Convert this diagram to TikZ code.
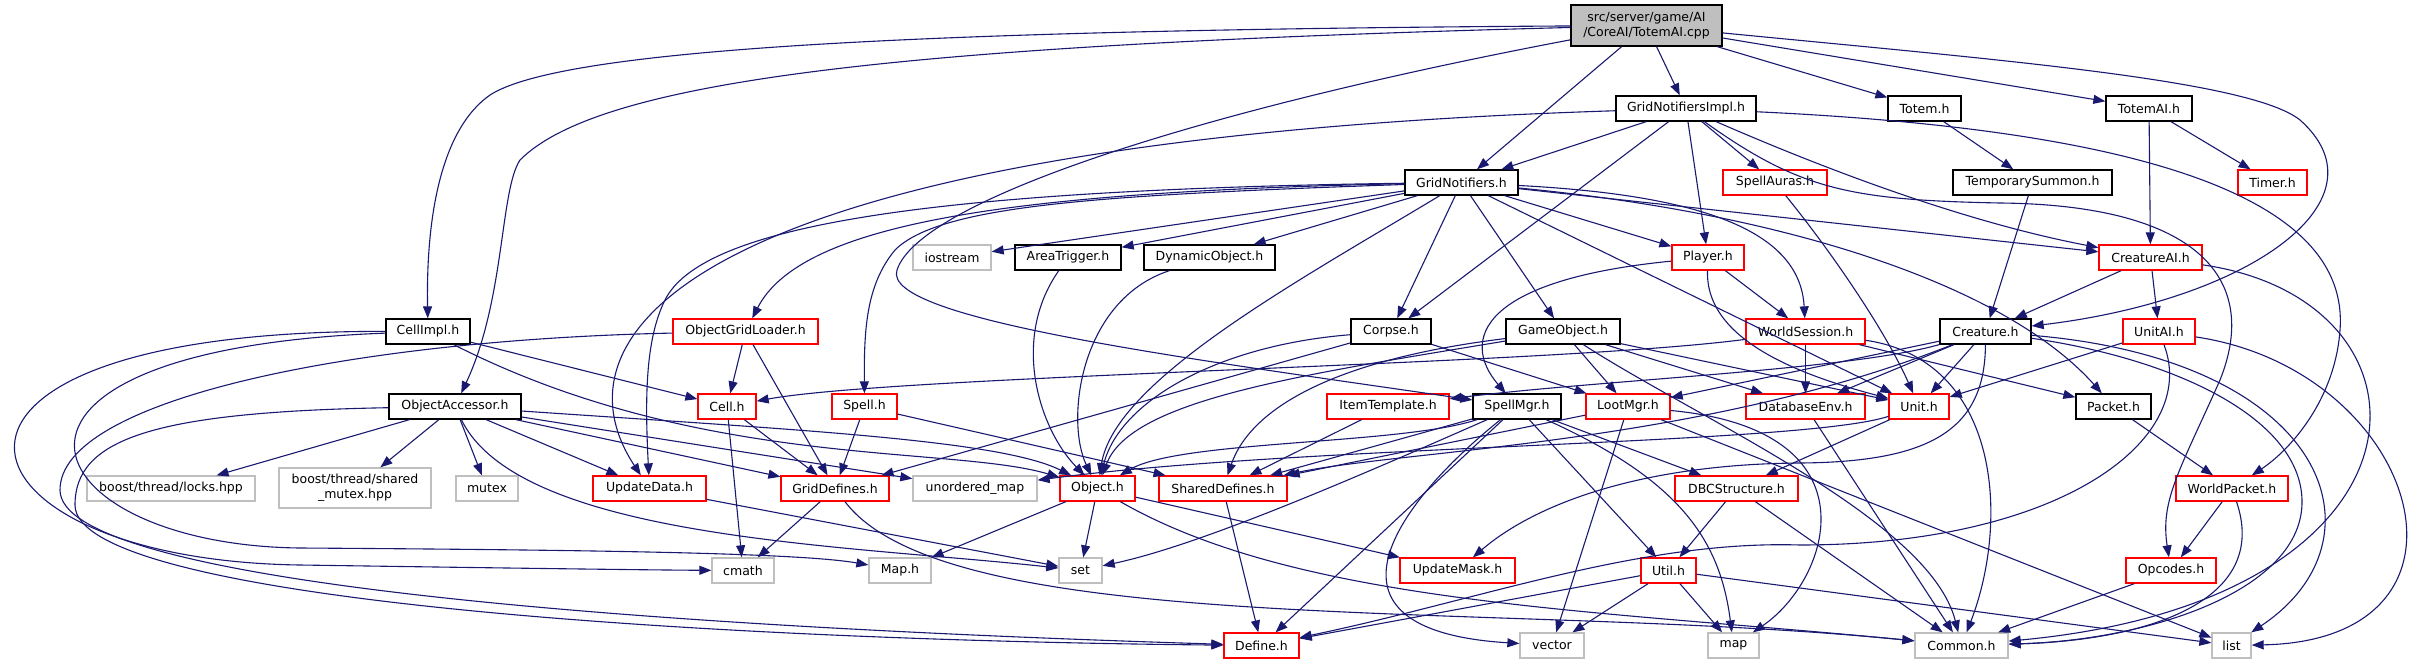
\documentclass[tikz,border=0pt]{standalone}
\usepackage{fontspec}
\setmainfont{DejaVu Sans}
\usetikzlibrary{arrows.meta}
\definecolor{edgeblue}{HTML}{191970}
\definecolor{boxgray}{HTML}{BFBFBF}

\begin{document}
\begin{tikzpicture}[x=1pt,y=-1pt,
  box/.style={rectangle,inner sep=0pt,minimum height=25pt,line width=1.3pt,fill=white,font=\fontsize{12.5}{15}\selectfont},
  blackbox/.style={box,draw=black},
  redbox/.style={box,draw=red},
  graybox/.style={box,draw=boxgray},
  dep/.style={draw=edgeblue,line width=1.1pt,-{Triangle[length=12pt,width=9pt]}}]
\useasboundingbox (0,0) rectangle (2417,664);

\node[box,draw=black,fill=boxgray,minimum width=151pt,minimum height=41pt,align=center] (root) at (1646.5,25.5) {src/server/game/AI\\/CoreAI/TotemAI.cpp};

\foreach \nm/\xx/\yy/\ww/\lbl in {gni/1686/108.5/140/GridNotifiersImpl.h, totem/1924.5/108.5/73/Totem.h,
  totemaih/2149/108.5/86/TotemAI.h, gn/1461.5/182.5/113/GridNotifiers.h, tempsum/2032.5/182.5/159/TemporarySummon.h,
  areatrigger/1068/257.5/106/AreaTrigger.h, dynobj/1209.5/257.5/131/DynamicObject.h, cellimpl/428/331.5/84/CellImpl.h,
  corpse/1391/331.5/80/Corpse.h, gameobject/1563/331.5/114/GameObject.h, creature/1985.5/331.5/91/Creature.h,
  objacc/455/406.5/132/ObjectAccessor.h, spellmgr/1517/406.5/88/SpellMgr.h, packet/2113.5/406.5/75/Packet.h}{
	\node[blackbox,minimum width=\ww pt] (\nm) at (\xx,\yy) {\lbl};
}
\foreach \nm/\xx/\yy/\ww/\lbl in {spellauras/1775/182.5/104/SpellAuras.h, timer/2272.5/182.5/69/Timer.h,
  player/1708/257.5/72/Player.h, creatureai/2150.5/257.5/103/CreatureAI.h, ogl/745.5/331.5/145/ObjectGridLoader.h,
  worldsession/1805.5/331.5/119/WorldSession.h, unitai/2159/331.5/72/UnitAI.h, cell/727/406.5/58/Cell.h,
  spell/864.5/406.5/65/Spell.h, itemtemplate/1388/406.5/122/ItemTemplate.h, lootmgr/1628/406.5/84/LootMgr.h,
  dbenv/1805.5/406.5/119/DatabaseEnv.h, unit/1919/406.5/60/Unit.h, updatedata/649.5/488.5/113/UpdateData.h,
  griddefines/835/488.5/108/GridDefines.h, object/1097.5/488.5/75/Object.h, shareddefines/1223/488.5/128/SharedDefines.h,
  dbcstructure/1736.5/488.5/123/DBCStructure.h, worldpacket/2232/488.5/112/WorldPacket.h,
  updatemask/1457.5/570.5/115/UpdateMask.h, util/1668.5/570.5/55/Util.h, opcodes/2171/570.5/90/Opcodes.h,
  define/1261.5/645.5/75/Define.h}{
	\node[redbox,minimum width=\ww pt] (\nm) at (\xx,\yy) {\lbl};
}
\foreach \nm/\xx/\yy/\ww/\lbl in {iostream/952/257.5/78/iostream, mutex/487/488.5/62/mutex,
  unorderedmap/975/488.5/124/unordered\_map, cmath/743/570.5/62/cmath, maph/900/570.5/62/Map.h,
  set/1080.5/570.5/43/set, vector/1552/645.5/64/vector, map/1733.5/645.5/51/map,
  common/1961.5/645.5/93/Common.h, list/2231.5/645.5/39/list}{
	\node[graybox,minimum width=\ww pt] (\nm) at (\xx,\yy) {\lbl};
}
\node[graybox,minimum width=168pt] (locks) at (171,488.5) {boost/thread/locks.hpp};
\node[graybox,minimum width=152pt,minimum height=40pt,align=center] (sharedmutex) at (355,488) {boost/thread/shared\\\_mutex.hpp};

\foreach \a/\b in {root/gn, root/gni, root/totem, root/totemaih,
  gni/gn, gni/corpse, gni/player, gni/spellauras,
  totem/tempsum, totemaih/creatureai, totemaih/timer, tempsum/creature,
  gn/iostream, gn/areatrigger, gn/dynobj, gn/corpse, gn/gameobject, gn/player, gn/unit, gn/creatureai,
  player/worldsession, creatureai/creature, creatureai/unitai,
  cellimpl/cell, ogl/cell, ogl/griddefines,
  objacc/locks, objacc/sharedmutex, objacc/mutex, objacc/updatedata, objacc/griddefines, objacc/unorderedmap,
  corpse/griddefines, corpse/lootmgr, gameobject/lootmgr, gameobject/dbenv, gameobject/unit,
  worldsession/dbenv, worldsession/packet, creature/unit, creature/dbenv, creature/lootmgr, unitai/unit,
  cell/cmath, cell/griddefines, spell/griddefines, spell/shareddefines, itemtemplate/shareddefines,
  spellmgr/shareddefines, spellmgr/define, spellmgr/util, spellmgr/dbcstructure,
  lootmgr/shareddefines, lootmgr/vector, lootmgr/list, dbenv/common, unit/dbcstructure, packet/worldpacket,
  updatedata/set, griddefines/cmath, object/maph, object/set, object/updatemask, shareddefines/define,
  dbcstructure/util, dbcstructure/common, util/define, util/vector, util/map, util/list,
  worldpacket/opcodes, opcodes/common}{
	\draw[dep] (\a) -- (\b);
}

\draw[dep] (root) .. controls (900,30) and (560,50) .. (490,95) .. controls (440,130) and (426,220) .. (cellimpl);
\draw[dep] (root) .. controls (900,45) and (600,80) .. (520,160) .. controls (500,190) and (505,300) .. (objacc);
\draw[dep] (root) .. controls (1200,110) and (920,200) .. (897,270) .. controls (880,320) and (1200,360) .. (spellmgr);
\draw[dep] (root) .. controls (2000,60) and (2250,80) .. (2300,120) .. controls (2390,200) and (2250,300) .. (creature);

\draw[dep] (gni) .. controls (700,140) and (545,330) .. (updatedata);
\draw[dep] (gni) .. controls (1850,180) and (1980,225) .. (creatureai);
\draw[dep] (gni) .. controls (1800,190) and (1850,200) .. (2000,203) .. controls (2200,205) and (2260,280) .. (2220,380) .. controls (2180,470) and (2160,500) .. (opcodes);
\draw[dep] (gni) .. controls (2150,130) and (2350,200) .. (2340,330) .. controls (2335,400) and (2290,450) .. (worldpacket);

\draw[dep] (gn) .. controls (1000,192) and (800,225) .. (ogl);
\draw[dep] (gn) .. controls (900,190) and (700,230) .. (665,300) .. controls (645,340) and (645,400) .. (updatedata);
\draw[dep] (gn) .. controls (1100,195) and (940,205) .. (895,250) .. controls (866,285) and (864,330) .. (spell);
\draw[dep] (gn) .. controls (1300,280) and (1115,380) .. (object);
\draw[dep] (gn) .. controls (1700,195) and (1800,230) .. (worldsession);
\draw[dep] (gn) .. controls (1800,215) and (2010,290) .. (packet);

\draw[dep] (spellauras) .. controls (1830,250) and (1885,330) .. (unit);
\draw[dep] (areatrigger) .. controls (1010,340) and (1040,430) .. (object);
\draw[dep] (dynobj) .. controls (1080,300) and (1065,420) .. (object);
\draw[dep] (player) .. controls (1480,280) and (1460,340) .. (spellmgr);
\draw[dep] (player) .. controls (1705,340) and (1800,375) .. (unit);
\draw[dep] (creatureai) .. controls (2450,300) and (2450,600) .. (common);

\draw[dep] (cellimpl) .. controls (-130,330) and (-60,560) .. (300,565) .. controls (500,568) and (650,570) .. (cmath);
\draw[dep] (cellimpl) .. controls (-60,350) and (30,545) .. (300,548) .. controls (600,550) and (800,553) .. (maph);
\draw[dep] (cellimpl) .. controls (700,470) and (950,445) .. (object);
\draw[dep] (ogl) .. controls (350,340) and (60,400) .. (60,490) .. controls (60,580) and (600,625) .. (define);
\draw[dep] (objacc) .. controls (150,412) and (75,440) .. (75,505) .. controls (75,600) and (700,640) .. (define);
\draw[dep] (objacc) .. controls (520,540) and (850,545) .. (set);
\draw[dep] (objacc) .. controls (800,430) and (1000,440) .. (object);

\draw[dep] (corpse) .. controls (1220,345) and (1120,400) .. (object);
\draw[dep] (gameobject) .. controls (1300,375) and (1130,400) .. (object);
\draw[dep] (gameobject) .. controls (1330,360) and (1250,410) .. (shareddefines);
\draw[dep] (gameobject) .. controls (1700,420) and (1930,520) .. (common);
\draw[dep] (worldsession) .. controls (1550,365) and (900,375) .. (cell);
\draw[dep] (worldsession) .. controls (2000,360) and (2010,520) .. (common);

\draw[dep] (creature) .. controls (1850,370) and (1600,380) .. (itemtemplate);
\draw[dep] (creature) .. controls (1700,445) and (1400,450) .. (shareddefines);
\draw[dep] (creature) .. controls (1985,430) and (1930,462) .. (1800,463) .. controls (1650,464) and (1540,500) .. (updatemask);
\draw[dep] (creature) .. controls (2180,360) and (2300,420) .. (2302,500) .. controls (2304,590) and (2150,640) .. (common);
\draw[dep] (creature) .. controls (2330,360) and (2390,540) .. (list);
\draw[dep] (unitai) .. controls (2200,440) and (2060,545) .. (1800,545) .. controls (1640,540) and (1480,600) .. (define);
\draw[dep] (unitai) .. controls (2420,370) and (2500,640) .. (list);

\draw[dep] (unit) .. controls (1800,445) and (1300,445) .. (unorderedmap);
\draw[dep] (spellmgr) .. controls (1400,445) and (1180,440) .. (object);
\draw[dep] (spellmgr) .. controls (1350,480) and (1200,545) .. (set);
\draw[dep] (spellmgr) .. controls (1400,500) and (1300,630) .. (vector);
\draw[dep] (spellmgr) .. controls (1680,480) and (1720,540) .. (map);
\draw[dep] (lootmgr) .. controls (1880,430) and (1830,580) .. (map);

\draw[dep] (griddefines) .. controls (950,640) and (1500,600) .. (common);
\draw[dep] (object) .. controls (1300,605) and (1600,610) .. (common);
\draw[dep] (worldpacket) .. controls (2270,600) and (2150,640) .. (common);
\end{tikzpicture}
\end{document}
